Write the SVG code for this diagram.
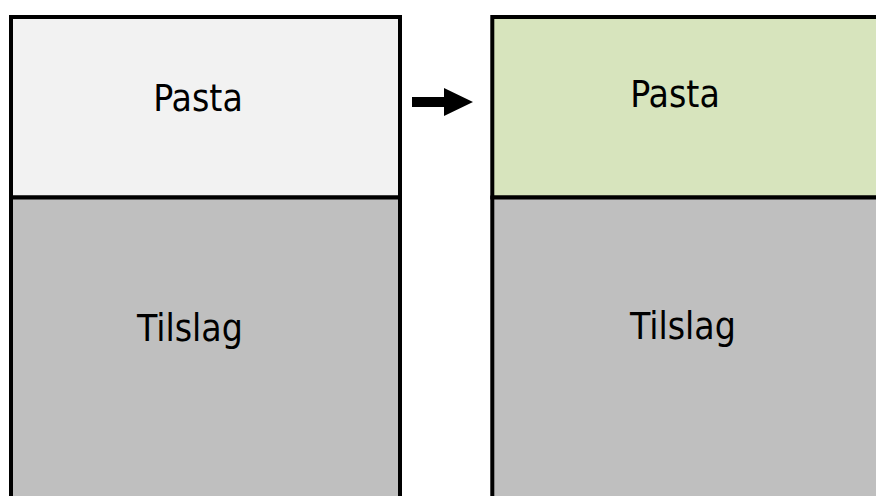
<svg xmlns="http://www.w3.org/2000/svg" width="876" height="496" viewBox="0 0 876 496">
<style>
.box{stroke:#000;stroke-width:4}
.lbl{font-family:"DejaVu Sans Condensed","DejaVu Sans",sans-serif;font-stretch:condensed;font-size:37px;fill:#000;text-anchor:middle}
</style>
<rect width="876" height="496" fill="#fff"/>
<g id="left-pasta"><rect class="box" x="11" y="17" width="389" height="180.5" fill="#f2f2f2"/><text class="lbl" x="198" y="111">Pasta</text></g>
<g id="left-tilslag"><rect class="box" x="11" y="197.5" width="389" height="320" fill="#bfbfbf"/><text class="lbl" x="190" y="341">Tilslag</text></g>
<g id="right-pasta"><rect class="box" x="492.3" y="17" width="420" height="180.5" fill="#d7e4bd"/><text class="lbl" x="675" y="107">Pasta</text></g>
<g id="right-tilslag"><rect class="box" x="492.3" y="197.5" width="420" height="320" fill="#bfbfbf"/><text class="lbl" x="683" y="339">Tilslag</text></g>
<g id="connectors"><polygon points="412,97 444,97 444,88 473,102 444,116 444,107 412,107" fill="#000"/></g>
</svg>
